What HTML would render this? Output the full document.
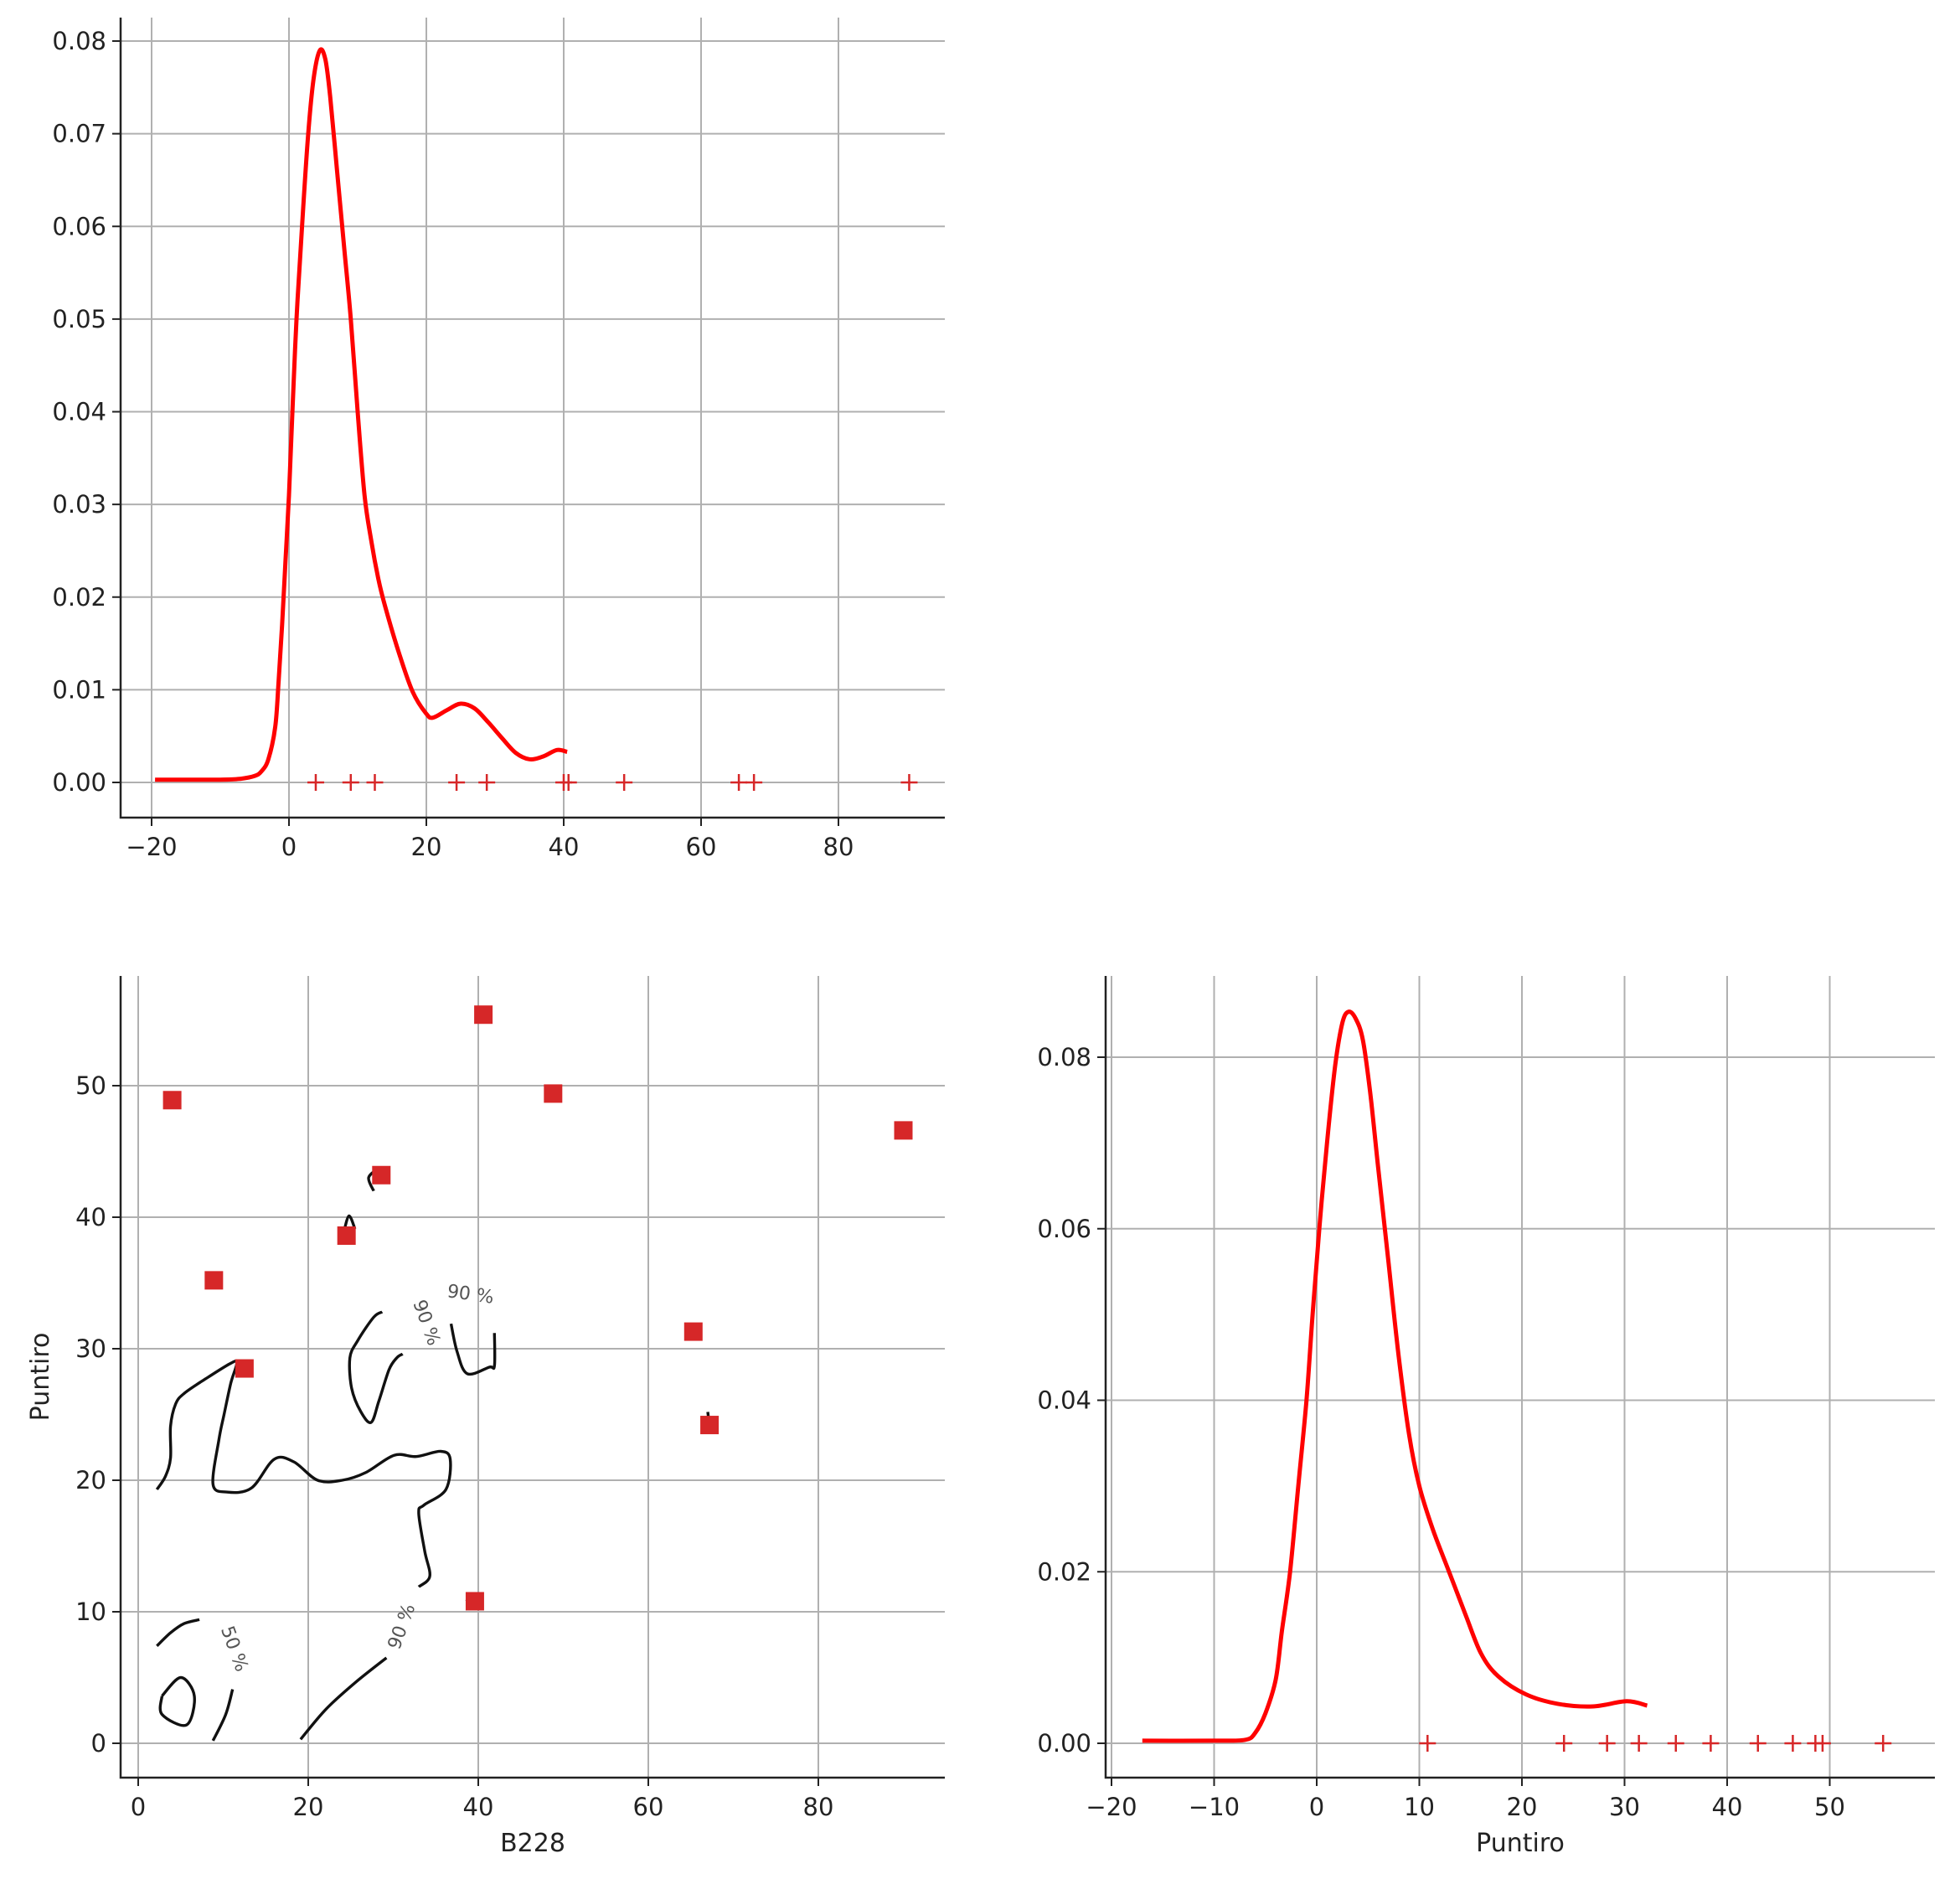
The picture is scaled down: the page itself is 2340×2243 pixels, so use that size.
<!DOCTYPE html>
<html><head><meta charset="utf-8">
<style>
html,body{margin:0;padding:0;background:#fff;}
svg{display:block;font-family:"DejaVu Sans","Liberation Sans",sans-serif;}
</style></head>
<body>
<svg id="fig" width="2340" height="2243" viewBox="0 0 2340 2243" xmlns="http://www.w3.org/2000/svg"></svg>
<script>
// ---- top-left KDE (B228) ----
const kdeAX = [-19.5,-10,-7,-5,-4,-3,-2,-1.5,-1,-0.5,0,0.5,1.1,1.9,2.8,3.6,4.5,5.3,6,7,8,9,10,11,12,13,14,16,18,20,21,23,25,27,29,31,33,35,37,39,40.5];
const kdeAY = [0.0003,0.0003,0.0004,0.0007,0.0012,0.0025,0.006,0.011,0.017,0.024,0.031,0.04,0.05,0.06,0.07,0.076,0.079,0.078,0.074,0.066,0.058,0.05,0.04,0.031,0.026,0.022,0.019,0.014,0.0098,0.0074,0.007,0.0078,0.0085,0.008,0.0065,0.0048,0.0032,0.0025,0.0028,0.0035,0.0033];
const rugA = [3.9,9.0,12.5,24.4,28.8,40.0,40.7,48.8,65.5,67.7,90.3];
const xTicksA = [-20,0,20,40,60,80];
const yTicksA = [0,0.01,0.02,0.03,0.04,0.05,0.06,0.07,0.08];
// ---- bottom-right KDE (Puntiro) ----
const kdeBX = [-17,-10,-7,-6,-5,-4,-3.4,-2.6,-1.8,-1.0,-0.4,0.25,1,1.8,2.5,3.1,3.8,4.5,5.2,6,7,8,9,10,11.3,12.9,14.5,16,17.7,20.4,23.5,26.9,30.2,32.2];
const kdeBY = [0.0003,0.0003,0.0004,0.0012,0.0035,0.0074,0.013,0.02,0.03,0.04,0.05,0.06,0.07,0.079,0.084,0.0853,0.0845,0.082,0.076,0.067,0.056,0.045,0.036,0.03,0.025,0.02,0.015,0.0105,0.0078,0.0057,0.0046,0.0043,0.0049,0.0044];
const rugB = [10.8,24.1,28.3,31.4,35.0,38.4,43.0,46.4,48.6,49.3,55.2];
const xTicksB = [-20,-10,0,10,20,30,40,50];
const yTicksB = [0,0.02,0.04,0.06,0.08];
// ---- bottom-left scatter ----
const scatX = [4.0,40.6,48.8,90.0,28.6,24.5,8.9,12.5,65.3,67.2,39.6];
const scatY = [48.9,55.4,49.4,46.6,43.2,38.6,35.2,28.5,31.3,24.2,10.8];
const xTicksS = [0,20,40,60,80];
const yTicksS = [0,10,20,30,40,50];
const contours = [
 [[2.2,19.3],[3.2,20.3],[3.8,21.7],[3.8,24.1],[4.4,25.8],[5.4,26.6],[7.9,27.7],[10.9,28.9],[11.6,28.9],[10.9,27.4],[10.1,25.0],[9.5,23.1],[8.8,19.7],[10.4,19.1],[13.3,19.4],[16.0,21.6],[18.3,21.4],[21.1,20.0],[24.0,20.0],[26.8,20.6],[30.1,21.9],[32.7,21.8],[35.6,22.2],[36.7,21.6],[36.2,19.3],[33.6,18.1],[33.0,17.5],[33.7,14.6],[34.3,12.7],[33.0,11.9]],
 [[29.2,6.5],[25.5,4.6],[22.1,2.6],[19.1,0.3]],
 [[28.7,32.8],[27.7,32.4],[25.8,30.6],[24.9,29.3],[25.1,27.0],[26.2,25.2],[27.4,24.4],[28.3,26.0],[29.5,28.4],[30.4,29.3],[31.1,29.6]],
 [[36.8,31.9],[37.5,29.8],[38.7,28.1],[41.3,28.6],[41.9,28.7],[41.9,31.2]],
 [[24.2,38.9],[24.8,40.1],[25.5,39.1]],
 [[27.7,42.0],[27.1,43.0],[28.2,43.7]],
 [[2.2,7.4],[3.8,8.4],[5.4,9.1],[7.2,9.4]],
 [[11.1,4.1],[10.3,2.2],[8.8,0.2]],
 [[2.8,3.6],[5.0,5.0],[6.6,3.6],[5.7,1.4],[2.8,2.2],[2.8,3.6]],
 [[38.9,11.0],[38.6,10.8]],
 [[67.0,25.2],[67.1,24.6]]
];
const clabelText = ["90 %","90 %","90 %","50 %"];
const clabelX = [39.1,34.0,30.9,11.4];
const clabelY = [34.2,32.0,8.9,7.2];
const clabelRot = [8,70,-70,70];

const NS="http://www.w3.org/2000/svg";
const svg=document.getElementById('fig');
function mk(tag,attrs,parent){const e=document.createElementNS(NS,tag);for(const k in attrs)e.setAttribute(k,attrs[k]);(parent||svg).appendChild(e);return e;}
function lin(d0,d1,p0,p1){return v=>p0+(v-d0)*(p1-p0)/(d1-d0);}
function fmt(v,dec){let s=v.toFixed(dec);return s.replace('-','\u2212');}
function smooth(pts){let d='M'+pts[0][0].toFixed(1)+','+pts[0][1].toFixed(1);
 for(let i=0;i<pts.length-1;i++){const p0=pts[i-1]||pts[i],p1=pts[i],p2=pts[i+1],p3=pts[i+2]||p2;
  const c1=[p1[0]+(p2[0]-p0[0])/6,p1[1]+(p2[1]-p0[1])/6],c2=[p2[0]-(p3[0]-p1[0])/6,p2[1]-(p3[1]-p1[1])/6];
  d+=' C'+c1[0].toFixed(1)+','+c1[1].toFixed(1)+' '+c2[0].toFixed(1)+','+c2[1].toFixed(1)+' '+p2[0].toFixed(1)+','+p2[1].toFixed(1);}
 return d;}

function axes(name,box,sx,sy,xt,yt,xdec,ydec,xlabel,ylabel){
 const g=mk('g',{});
 
 
 xt.forEach(v=>{const x=sx(v);
  const l=mk('line',{x1:x,x2:x,y1:box.t,y2:box.b,stroke:'#b0b0b0','stroke-width':2},g);
  
  mk('line',{x1:x,x2:x,y1:box.b,y2:box.b+10,stroke:'#222','stroke-width':2},g);
  const t=mk('text',{x:x,y:box.b+45,'text-anchor':'middle','font-size':29,fill:'#222'},g);
  t.textContent=fmt(v,xdec);
  });
 yt.forEach(v=>{const y=sy(v);
  const l=mk('line',{x1:box.l,x2:box.r,y1:y,y2:y,stroke:'#b0b0b0','stroke-width':2},g);
  
  mk('line',{x1:box.l-10,x2:box.l,y1:y,y2:y,stroke:'#222','stroke-width':2},g);
  const t=mk('text',{x:box.l-17,y:y+10,'text-anchor':'end','font-size':29,fill:'#222'},g);
  t.textContent=fmt(v,ydec);
  });
 const sp=mk('path',{d:`M${box.l},${box.t} L${box.l},${box.b} L${box.r},${box.b}`,fill:'none',stroke:'#222','stroke-width':2.5},g);
 
 if(xlabel){const t=mk('text',{x:(box.l+box.r)/2,y:box.b+88,'text-anchor':'middle','font-size':30,fill:'#222'},g);t.textContent=xlabel;
  }
 if(ylabel){const cy=(box.t+box.b)/2;const t=mk('text',{x:58,y:cy,'text-anchor':'middle','font-size':30,fill:'#222',transform:`rotate(-90 58 ${cy})`},g);t.textContent=ylabel;
  }
}
function rug(vals,sx,y,name){vals.forEach(v=>{const x=sx(v);
 const p=mk('path',{d:`M${x-10},${y} H${x+10} M${x},${y-10} V${y+10}`,stroke:'#d62728','stroke-width':2.5});
 });}

// Top-left
const boxA={l:144,r:1128,t:21,b:976};
const sxA=lin(0,80,345,1001), syA=lin(0,0.08,934,49);
axes('b228-kde',boxA,sxA,syA,xTicksA,yTicksA,0,2,null,null);
const cA=mk('path',{d:smooth(kdeAX.map((x,i)=>[sxA(x),syA(kdeAY[i])])),fill:'none',stroke:'#ff0000','stroke-width':5,'stroke-linejoin':'round'});

rug(rugA,sxA,syA(0),'b228-rug-mark');

// Bottom-left
const boxS={l:144,r:1128,t:1165,b:2122};
const sxS=lin(0,80,165,977), syS=lin(0,50,2081,1296);
axes('scatter',boxS,sxS,syS,xTicksS,yTicksS,0,0,'B228','Puntiro');
contours.forEach(c=>{const p=mk('path',{d:smooth(c.map(q=>[sxS(q[0]),syS(q[1])])),fill:'none',stroke:'#111','stroke-width':3.4,'stroke-linejoin':'round'});
 });
clabelText.forEach((s,i)=>{const x=sxS(clabelX[i]),y=syS(clabelY[i]);
 const t=mk('text',{x:x,y:y+8,'text-anchor':'middle','font-size':22,fill:'#555',transform:`rotate(${clabelRot[i]} ${x} ${y})`});
 t.textContent=s;});
scatX.forEach((v,i)=>{const x=sxS(v),y=syS(scatY[i]);
 const r=mk('rect',{x:x-11,y:y-11,width:22,height:22,fill:'#d62728'});
 });

// Bottom-right
const boxB={l:1320,r:2310,t:1165,b:2122};
const sxB=lin(0,10,1572,1694.5), syB=lin(0,0.08,2081,1262);
axes('puntiro-kde',boxB,sxB,syB,xTicksB,yTicksB,0,2,'Puntiro',null);
const cB=mk('path',{d:smooth(kdeBX.map((x,i)=>[sxB(x),syB(kdeBY[i])])),fill:'none',stroke:'#ff0000','stroke-width':5,'stroke-linejoin':'round'});

rug(rugB,sxB,syB(0),'puntiro-rug-mark');
</script>
</body></html>
